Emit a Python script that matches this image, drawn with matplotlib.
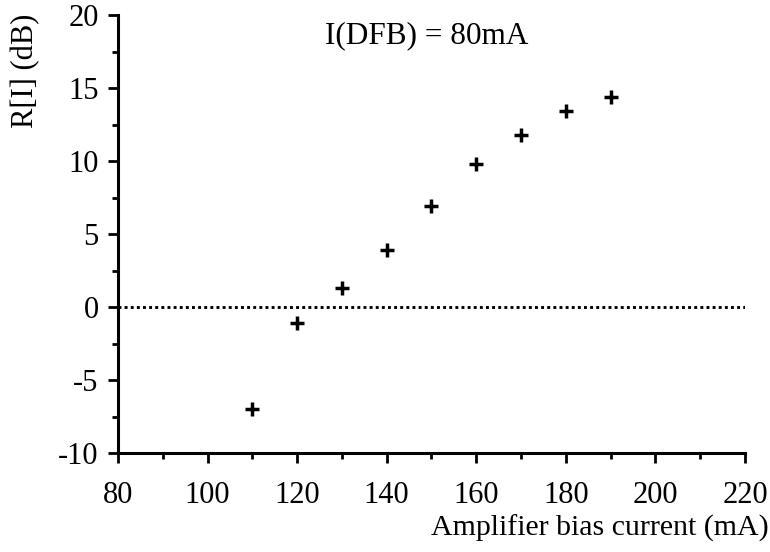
import matplotlib
matplotlib.use("Agg")
import matplotlib.pyplot as plt
from matplotlib.ticker import MultipleLocator

# Ratio R[I] versus amplifier bias current, DFB at 80 mA
bias_current = [110, 120, 130, 140, 150, 160, 170, 180, 190]
ratio_db = [-7.0, -1.1, 1.3, 3.9, 6.9, 9.8, 11.8, 13.4, 14.4]
x_ticks = [80, 100, 120, 140, 160, 180, 200, 220]
y_ticks = [-10, -5, 0, 5, 10, 15, 20]

plt.rcParams['font.family'] = ['Liberation Serif', 'DejaVu Serif']
plt.rcParams['axes.unicode_minus'] = False

fig = plt.figure(figsize=(7.7, 5.52), dpi=100)
ax = fig.add_axes([0.1532, 0.1793, 0.8143, 0.7935])

ax.axhline(0, color='black', lw=2.1, linestyle=(0, (1, 1.1)), zorder=1)
ax.plot(bias_current, ratio_db, linestyle='none', marker='+', markersize=10.5,
        markeredgewidth=2.5, color='black', zorder=3)

ax.set_xlim(80, 220)
ax.set_ylim(-10, 20)
ax.set_xticks(x_ticks)
ax.set_yticks(y_ticks)
ax.xaxis.set_minor_locator(MultipleLocator(10))
ax.yaxis.set_minor_locator(MultipleLocator(2.5))

for side in ('top', 'right'):
    ax.spines[side].set_visible(False)
for side in ('left', 'bottom'):
    ax.spines[side].set_linewidth(2.2)

ax.tick_params(axis='both', which='major', direction='out', length=7, width=2.0,
               labelsize=22, color='black')
ax.tick_params(axis='both', which='minor', direction='out', length=4, width=2.0)
ax.tick_params(axis='y', which='major', pad=7)
ax.tick_params(axis='x', which='major', pad=13)

fig.text(0.033, 0.975, 'R[I] (dB)', rotation=90, ha='center', va='top', fontsize=22)
fig.text(0.998, 0.042, 'Amplifier bias current (mA)', ha='right', va='center', fontsize=21.5)
ax.text(0.33, 0.952, 'I(DFB) = 80mA', transform=ax.transAxes, ha='left', va='center',
        fontsize=22.5)

fig.savefig('out.png', dpi=100, facecolor='white')
